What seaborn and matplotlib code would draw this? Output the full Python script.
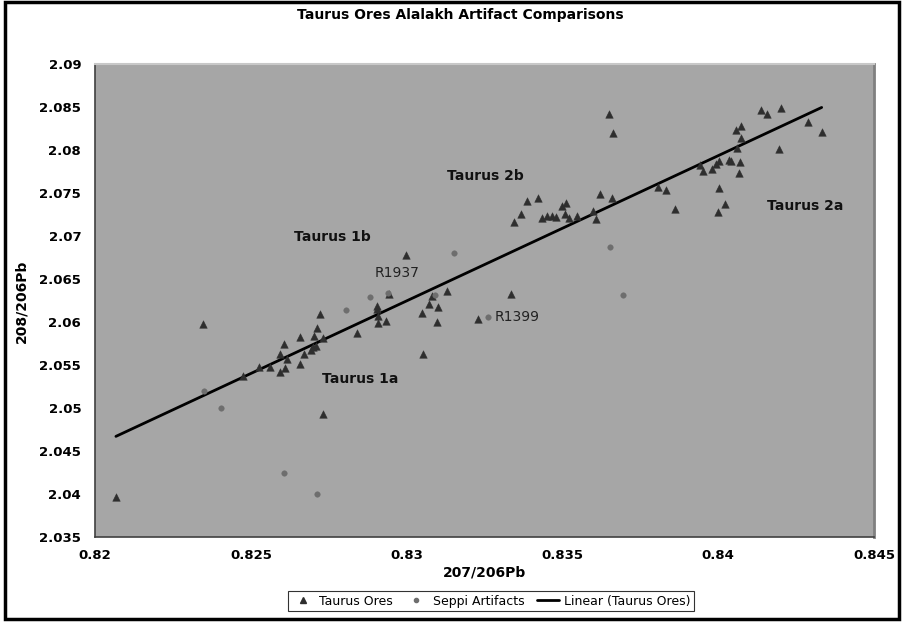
import matplotlib
matplotlib.use("Agg")
import matplotlib.pyplot as plt
import numpy as np
import pandas as pd
import seaborn as sns
from matplotlib.lines import Line2D
from matplotlib.patches import Rectangle

# Taurus ores (207/206Pb, 208/206Pb)
ores_x = [0.82067, 0.82347, 0.82474, 0.82527, 0.82563, 0.82592, 0.82593, 0.82606, 0.82609, 0.82615,
          0.82657, 0.82658, 0.82670, 0.82693, 0.82699, 0.82704, 0.82709, 0.82712, 0.82723, 0.82730,
          0.82730, 0.82841, 0.82906, 0.82906, 0.82909, 0.82909, 0.82933, 0.82945, 0.82998, 0.83048,
          0.83053, 0.83072, 0.83080, 0.83098, 0.83102, 0.83129, 0.83229, 0.83334, 0.83344, 0.83368,
          0.83387, 0.83421, 0.83433, 0.83449, 0.83466, 0.83480, 0.83498, 0.83508, 0.83512, 0.83521,
          0.83546, 0.83597, 0.83608, 0.83621, 0.83650, 0.83660, 0.83662, 0.83808, 0.83833, 0.83860,
          0.83941, 0.83952, 0.83980, 0.83993, 0.84000, 0.84001, 0.84003, 0.84021, 0.84033, 0.84040,
          0.84058, 0.84061, 0.84067, 0.84070, 0.84072, 0.84072, 0.84137, 0.84156, 0.84195, 0.84202,
          0.84288, 0.84332]
ores_y = [2.0397, 2.0598, 2.05377, 2.05486, 2.05478, 2.05637, 2.0542, 2.05753, 2.0547, 2.05571,
          2.05831, 2.05513, 2.05637, 2.0568, 2.05711, 2.05846, 2.05726, 2.05936, 2.06095, 2.0582,
          2.04932, 2.05881, 2.06192, 2.0616, 2.06079, 2.05994, 2.06017, 2.06327, 2.06781, 2.06106,
          2.0563, 2.06218, 2.06308, 2.06005, 2.06183, 2.0637, 2.0604, 2.06331, 2.07172, 2.07261,
          2.07409, 2.07444, 2.07211, 2.07242, 2.07242, 2.07226, 2.07354, 2.07261, 2.07386, 2.07211,
          2.07238, 2.07296, 2.07203, 2.07494, 2.0843, 2.07444, 2.0820, 2.07579, 2.07537, 2.0732,
          2.07831, 2.07761, 2.07788, 2.07843, 2.07288, 2.07878, 2.07567, 2.07381, 2.07889, 2.07878,
          2.08234, 2.08025, 2.07742, 2.0787, 2.08285, 2.08142, 2.08471, 2.08424, 2.08017, 2.08498,
          2.08335, 2.08211]

# Seppi artifacts
seppi_x = [0.82351, 0.82405, 0.82608, 0.82711, 0.82804, 0.82883, 0.82939, 0.83091, 0.83153, 0.83262,
           0.83653, 0.83696]
seppi_y = [2.05206, 2.05005, 2.04249, 2.04001, 2.06145, 2.0630, 2.06339, 2.06319, 2.06811, 2.06063,
           2.06874, 2.06316]

group_labels = ["Taurus 1b", "Taurus 1a", "Taurus 2b", "Taurus 2a"]
group_pos = [(0.82761, 2.06997), (0.82850, 2.05339), (0.83252, 2.07707), (0.84279, 2.07358)]
sample_labels = ["R1937", "R1399"]
sample_pos = [(0.82969, 2.06579), (0.83354, 2.06063)]

x_ticks = [0.82, 0.825, 0.83, 0.835, 0.84, 0.845]
y_ticks = [2.035, 2.04, 2.045, 2.05, 2.055, 2.06, 2.065, 2.07, 2.075, 2.08, 2.085, 2.09]

ores = pd.DataFrame({"x": ores_x, "y": ores_y})
seppi = pd.DataFrame({"x": seppi_x, "y": seppi_y})

sns.set_style("white")
plt.rcParams["font.family"] = ["DejaVu Sans"]
plt.rcParams["text.color"] = "black"
plt.rcParams["axes.labelcolor"] = "black"
plt.rcParams["xtick.color"] = "black"
plt.rcParams["ytick.color"] = "black"

fig = plt.figure(figsize=(9.06, 6.31), dpi=100)
ax = fig.add_axes([0.1049, 0.1482, 0.8598, 0.7496])
ax.set_facecolor("#a6a6a6")

tri_color = "#2e2e2e"
dot_color = "#6e6e6e"

sns.regplot(data=ores, x="x", y="y", scatter=False, ci=None, truncate=True,
            line_kws={"color": "black", "lw": 2.0, "zorder": 2}, ax=ax)
sns.scatterplot(data=ores, x="x", y="y", marker="^", s=30, color=tri_color,
                edgecolor=tri_color, linewidth=0.3, ax=ax, zorder=3)
sns.scatterplot(data=seppi, x="x", y="y", marker="o", s=16, color=dot_color,
                edgecolor=dot_color, linewidth=0.3, ax=ax, zorder=3)

for lab, (px, py) in zip(group_labels, group_pos):
    ax.text(px, py, lab, ha="center", va="center", fontsize=10, fontweight="bold", color="#111111")
for lab, (px, py) in zip(sample_labels, sample_pos):
    ax.text(px, py, lab, ha="center", va="center", fontsize=10, color="#222222")

ax.set_xlim(0.82, 0.845)
ax.set_ylim(2.035, 2.09)
ax.set_xticks(x_ticks)
ax.set_xticklabels([f"{v:g}" for v in x_ticks], fontweight="bold", fontsize=9.5)
ax.set_yticks(y_ticks)
ax.set_yticklabels([f"{v:g}" for v in y_ticks], fontweight="bold", fontsize=9.5)
ax.tick_params(axis="both", direction="out", length=4, width=1, color="black", pad=6)
ax.tick_params(axis="x", pad=4)

for side in ["left", "bottom"]:
    ax.spines[side].set_color("#404040")
    ax.spines[side].set_linewidth(1.2)
ax.spines["top"].set_color("#c8c8c8")
ax.spines["top"].set_linewidth(1.5)
ax.spines["right"].set_color("#808080")
ax.spines["right"].set_linewidth(2)

ax.set_xlabel("207/206Pb", fontweight="bold", fontsize=10, labelpad=3)
ax.set_ylabel("208/206Pb", fontweight="bold", fontsize=10, labelpad=8)
fig.suptitle("Taurus Ores Alalakh Artifact Comparisons", fontweight="bold", fontsize=10,
             x=0.508, y=0.987)

handles = [
    Line2D([], [], marker="^", ls="none", color=tri_color, markersize=4),
    Line2D([], [], marker="o", ls="none", color=dot_color, markersize=3),
    Line2D([], [], color="black", lw=2),
]
leg = fig.legend(handles, ["Taurus Ores", "Seppi Artifacts", "Linear (Taurus Ores)"],
                 loc="center", bbox_to_anchor=(0.542, 0.0475), ncol=3, frameon=True,
                 fancybox=False, fontsize=9, handlelength=1.8, handletextpad=0.4,
                 columnspacing=1.0, borderpad=0.3)
leg.get_frame().set_edgecolor("black")
leg.get_frame().set_linewidth(0.8)

# outer chart frame
fig.patches.append(Rectangle((5 / 906, 1 - 619 / 631), 894 / 906, 617 / 631,
                             transform=fig.transFigure, fill=False, edgecolor="black",
                             linewidth=2.5, zorder=0))

fig.savefig("out.png", dpi=100)
